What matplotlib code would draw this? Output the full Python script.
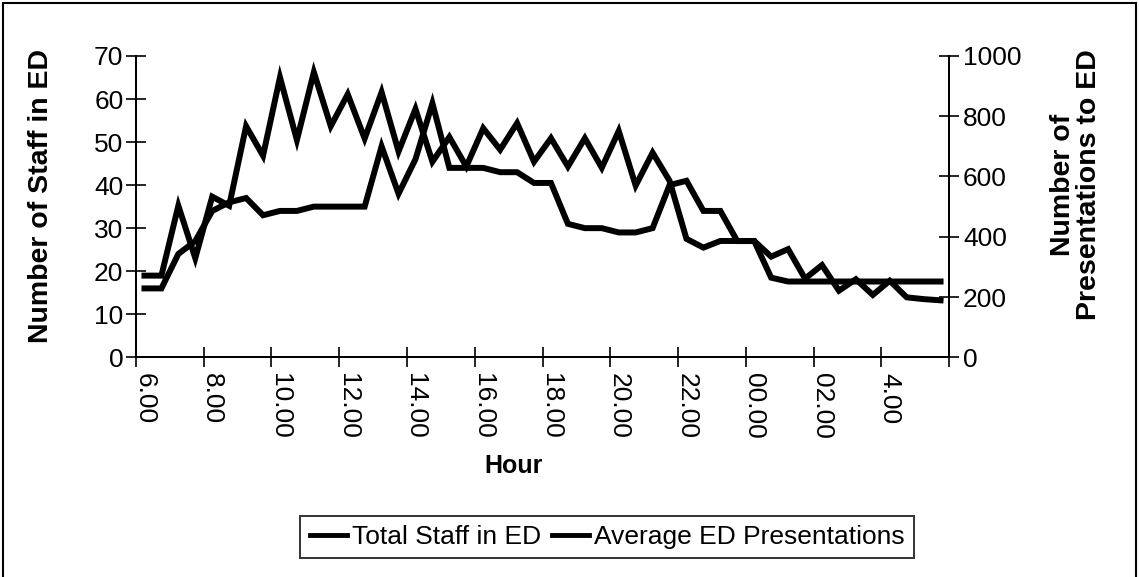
import matplotlib
matplotlib.use("Agg")
import matplotlib.pyplot as plt
from matplotlib.patches import Rectangle
from matplotlib.lines import Line2D
import numpy as np

# half-hourly slots from 6.00 to 5.30
slots = np.arange(48)
tick_slots = np.arange(0, 48, 4)
tick_labels = ["6.00", "8.00", "10.00", "12.00", "14.00", "16.00",
               "18.00", "20.00", "22.00", "00.00", "02.00", "4.00"]

# Total staff in ED (left axis)
staff = [16, 16, 24, 27, 34, 36, 37, 33, 34, 34, 35, 35,
         35, 35, 49, 38, 46, 59, 44, 44, 44, 43, 43, 40.5,
         40.5, 31, 30, 30, 29, 29, 30, 40, 41, 34, 34, 27,
         27, 18.5, 17.6, 17.6, 17.6, 17.6, 17.6, 17.6, 17.6, 17.6, 17.6, 17.6]

# Average ED presentations (right axis)
presentations = [271, 271, 503, 329, 533, 503, 767, 669, 929, 721, 946, 767,
                 873, 726, 880, 683, 824, 649, 731, 633, 760, 689, 777, 649,
                 727, 633, 727, 629, 751, 570, 679, 586, 393, 364, 386, 386,
                 386, 334, 359, 261, 306, 221, 259, 207, 254, 199, 193, 189]

FONT = ["Liberation Sans", "DejaVu Sans"]

fig = plt.figure(figsize=(11.39, 5.77), dpi=100)
ax = fig.add_axes([0.1194, 0.3808, 0.7138, 0.5222])
ax2 = ax.twinx()

ax.plot(slots, staff, color="black", linewidth=4.3, solid_joinstyle="miter", zorder=3)
ax2.plot(slots, presentations, color="black", linewidth=4.3, solid_joinstyle="miter", zorder=3)

ax.set_xlim(-0.5, 47.5)
ax.set_ylim(0, 70)
ax2.set_ylim(0, 1000)
ax.set_yticks(np.arange(0, 71, 10))
ax2.set_yticks(np.arange(0, 1001, 200))

ax.set_xticks(tick_slots)
ax.set_xticklabels(tick_labels, rotation=-90, family=FONT, fontsize=19)
ax.set_xticks(np.arange(-0.5, 48, 4), minor=True)
ax.tick_params(axis="x", which="major", length=0, pad=11)
ax.tick_params(axis="x", which="minor", direction="inout", length=14, width=1.2)
ax.tick_params(axis="y", direction="inout", length=14, width=1.2, pad=2)
ax2.tick_params(axis="y", direction="inout", length=14, width=1.2, pad=3)

for lab in ax.get_yticklabels() + ax2.get_yticklabels():
    lab.set_family(FONT)
    lab.set_fontsize(19)

for a in (ax, ax2):
    a.spines["top"].set_visible(False)
    for s in ("left", "right", "bottom"):
        a.spines[s].set_linewidth(1.4)

fig.text(0.036, 0.66, "Number of Staff in ED", rotation=90, ha="center", va="center",
         family=FONT, fontweight="bold", fontsize=20.5)
fig.text(0.945, 0.68, "Number of\nPresentations to ED", rotation=90, ha="center",
         va="center", family=FONT, fontweight="bold", fontsize=20.5, linespacing=1.0)
fig.text(0.451, 0.192, "Hour", ha="center", va="center", family=FONT,
         fontweight="bold", fontsize=18)

handles = [Line2D([], [], color="black", linewidth=3.5),
           Line2D([], [], color="black", linewidth=3.5)]
leg = fig.legend(handles, ["Total Staff in ED", "Average ED Presentations"],
                 loc="center", bbox_to_anchor=(0.533, 0.069), ncol=2,
                 frameon=True, fancybox=False, edgecolor="black",
                 prop={"family": FONT, "size": 19}, handlelength=1.4,
                 handletextpad=0.2, columnspacing=0.4, borderpad=0.35)
leg.get_frame().set_linewidth(1.4)

fig.patches.append(Rectangle((0.003, -0.02), 0.994, 1.015, transform=fig.transFigure,
                             fill=False, edgecolor="black", linewidth=1.5))

fig.savefig("out.png", dpi=100)
